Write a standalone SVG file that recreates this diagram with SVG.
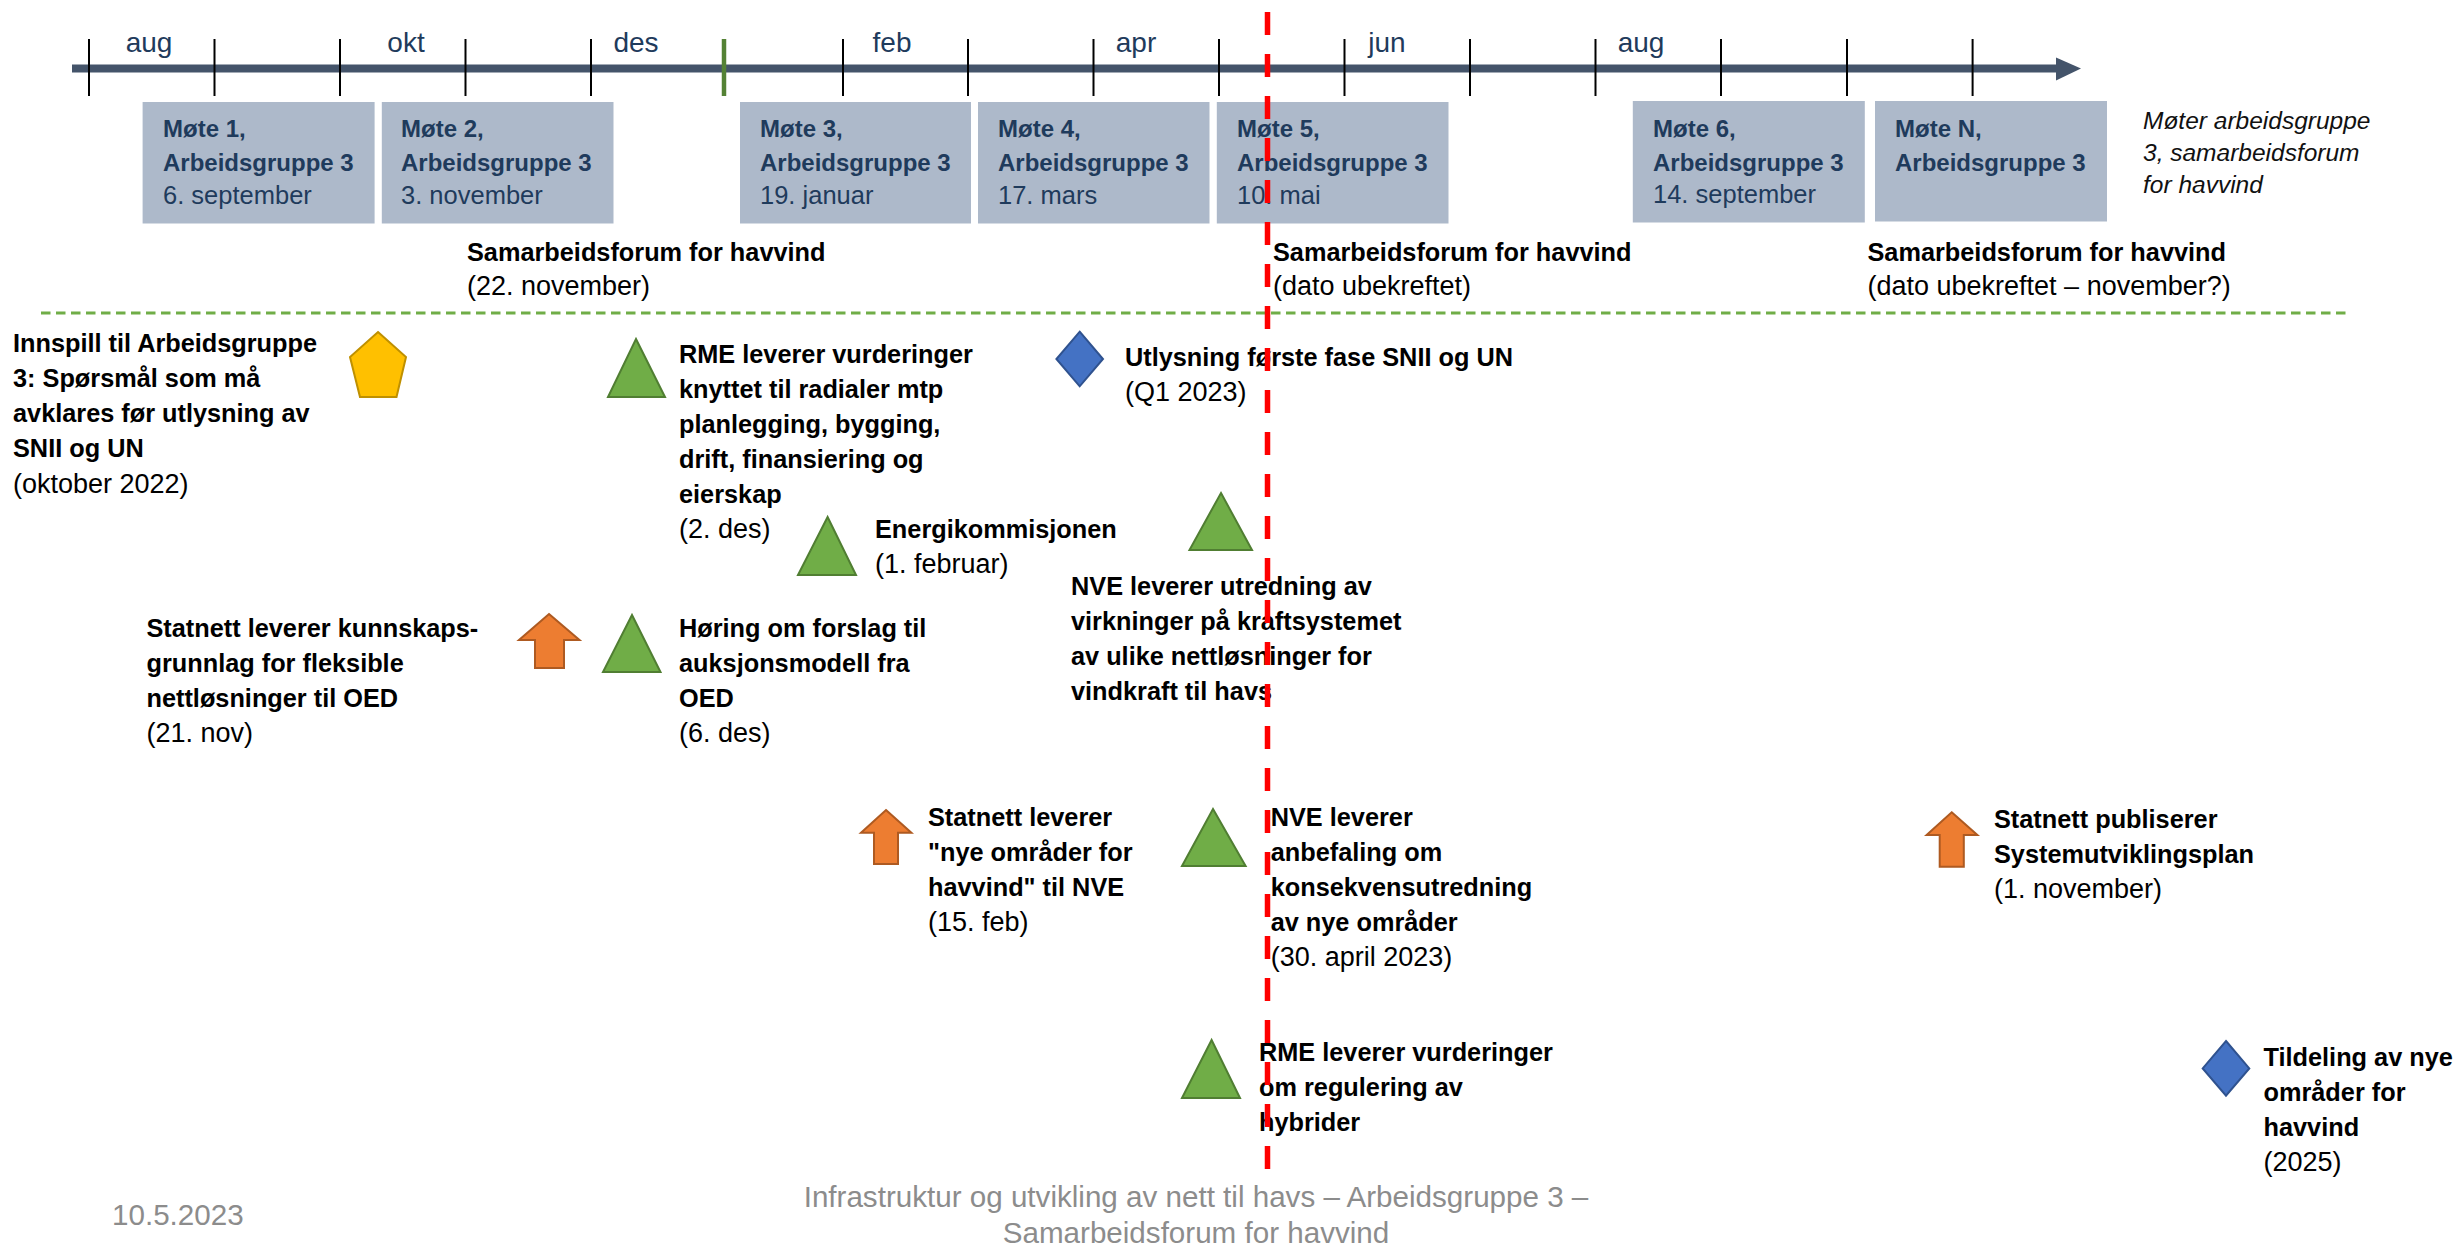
<svg xmlns="http://www.w3.org/2000/svg" width="2458" height="1247" viewBox="0 0 2458 1247">
<style>
text{font-family:"Liberation Sans",Arial,sans-serif}
.b{font-weight:bold;font-size:25.3px;fill:#000}
.r{font-size:27px;fill:#000}
.mb{font-weight:bold;font-size:24px;fill:#1F3B5C}
.mr{font-size:25.5px;fill:#1F3B5C}
.mon{font-size:28px;fill:#1F3B5C;text-anchor:middle}
.leg{font-style:italic;font-size:24.5px;fill:#111}
.foot{font-size:29.6px;fill:#8C8C8C}
.box{fill:#ADB9CA}
.tri{fill:#70AD47;stroke:#507E32;stroke-width:2}
.arr{fill:#ED7D31;stroke:#AE5A21;stroke-width:2}
.dia{fill:#4472C4;stroke:#2F528F;stroke-width:2}
.tick{stroke:#000;stroke-width:2}
</style>
<rect width="2458" height="1247" fill="#fff"/>

<g id="axis">
<rect x="72" y="64.5" width="1986" height="8" fill="#44546A"/>
<polygon points="2056,57.5 2081,68.5 2056,80.5" fill="#44546A"/>
<g class="tick">
<line x1="89" y1="39" x2="89" y2="96"/>
<line x1="214.5" y1="39" x2="214.5" y2="96"/>
<line x1="340" y1="39" x2="340" y2="96"/>
<line x1="465.5" y1="39" x2="465.5" y2="96"/>
<line x1="591" y1="39" x2="591" y2="96"/>
<line x1="843" y1="39" x2="843" y2="96"/>
<line x1="968" y1="39" x2="968" y2="96"/>
<line x1="1093.5" y1="39" x2="1093.5" y2="96"/>
<line x1="1219" y1="39" x2="1219" y2="96"/>
<line x1="1344.5" y1="39" x2="1344.5" y2="96"/>
<line x1="1470" y1="39" x2="1470" y2="96"/>
<line x1="1595.5" y1="39" x2="1595.5" y2="96"/>
<line x1="1721" y1="39" x2="1721" y2="96"/>
<line x1="1847" y1="39" x2="1847" y2="96"/>
<line x1="1972.6" y1="39" x2="1972.6" y2="96"/>
</g>
<line x1="724" y1="39" x2="724" y2="96" stroke="#548235" stroke-width="4.5"/>
<text class="mon" x="149" y="52">aug</text>
<text class="mon" x="406" y="52">okt</text>
<text class="mon" x="636" y="52">des</text>
<text class="mon" x="892" y="52">feb</text>
<text class="mon" x="1136" y="52">apr</text>
<text class="mon" x="1387" y="52">jun</text>
<text class="mon" x="1641" y="52">aug</text>
</g>

<g id="mote1"><rect class="box" x="142.6" y="102" width="232" height="121.5"/>
<text class="mb" x="163" y="137">Møte 1,</text><text class="mb" x="163" y="171">Arbeidsgruppe 3</text><text class="mr" x="163" y="204">6. september</text></g>
<g id="mote2"><rect class="box" x="381.8" y="102" width="231.7" height="121.5"/>
<text class="mb" x="401" y="137">Møte 2,</text><text class="mb" x="401" y="171">Arbeidsgruppe 3</text><text class="mr" x="401" y="204">3. november</text></g>
<g id="mote3"><rect class="box" x="740" y="102" width="231" height="121.5"/>
<text class="mb" x="760" y="137">Møte 3,</text><text class="mb" x="760" y="171">Arbeidsgruppe 3</text><text class="mr" x="760" y="204">19. januar</text></g>
<g id="mote4"><rect class="box" x="978" y="102" width="231.5" height="121.5"/>
<text class="mb" x="998" y="137">Møte 4,</text><text class="mb" x="998" y="171">Arbeidsgruppe 3</text><text class="mr" x="998" y="204">17. mars</text></g>
<g id="mote5"><rect class="box" x="1216.8" y="102" width="231.7" height="121.5"/>
<text class="mb" x="1237" y="137">Møte 5,</text><text class="mb" x="1237" y="171">Arbeidsgruppe 3</text><text class="mr" x="1237" y="204">10. mai</text></g>
<g id="mote6"><rect class="box" x="1632.8" y="101" width="232" height="121.5"/>
<text class="mb" x="1653" y="136.5">Møte 6,</text><text class="mb" x="1653" y="170.5">Arbeidsgruppe 3</text><text class="mr" x="1653" y="203">14. september</text></g>
<g id="moteN"><rect class="box" x="1875" y="101" width="232" height="120.5"/>
<text class="mb" x="1895" y="136.5">Møte N,</text><text class="mb" x="1895" y="170.5">Arbeidsgruppe 3</text></g>

<g id="legend">
<text class="leg" x="2143" y="129">Møter arbeidsgruppe</text>
<text class="leg" x="2143" y="161">3, samarbeidsforum</text>
<text class="leg" x="2143" y="193">for havvind</text>
</g>

<g id="forum1"><text class="b" x="467" y="261">Samarbeidsforum for havvind</text><text class="r" x="467" y="295">(22. november)</text></g>
<g id="forum2"><text class="b" x="1273" y="261">Samarbeidsforum for havvind</text><text class="r" x="1273" y="295">(dato ubekreftet)</text></g>
<g id="forum3"><text class="b" x="1867.5" y="261">Samarbeidsforum for havvind</text><text class="r" x="1867.5" y="295">(dato ubekreftet – november?)</text></g>

<g id="connectors">
<line x1="41" y1="313" x2="2346" y2="313" stroke="#70AD47" stroke-width="3" stroke-dasharray="9.5 5.5"/>
</g>

<g id="innspill">
<polygon points="378,332 406,357 396.5,397 360,397 350,357" fill="#FFC000" stroke="#BF9000" stroke-width="2"/>
<text class="b" x="13" y="352">Innspill til Arbeidsgruppe</text>
<text class="b" x="13" y="387">3: Spørsmål som må</text>
<text class="b" x="13" y="422">avklares før utlysning av</text>
<text class="b" x="13" y="457">SNII og UN</text>
<text class="r" x="13" y="493">(oktober 2022)</text>
</g>

<g id="rme-radialer">
<polygon class="tri" points="636,339 665,397 608,397"/>
<text class="b" x="679" y="363">RME leverer vurderinger</text>
<text class="b" x="679" y="398">knyttet til radialer mtp</text>
<text class="b" x="679" y="433">planlegging, bygging,</text>
<text class="b" x="679" y="468">drift, finansiering og</text>
<text class="b" x="679" y="503">eierskap</text>
<text class="r" x="679" y="538">(2. des)</text>
</g>

<g id="energikommisjonen">
<polygon class="tri" points="827.6,517 856,575 798,575"/>
<text class="b" x="875" y="538">Energikommisjonen</text>
<text class="r" x="875" y="573">(1. februar)</text>
</g>

<g id="utlysning">
<polygon class="dia" points="1079.7,331.7 1103,359 1079.7,386.3 1056.4,359"/>
<text class="b" x="1125" y="366">Utlysning første fase SNII og UN</text>
<text class="r" x="1125" y="401">(Q1 2023)</text>
</g>

<g id="nve-utredning">
<polygon class="tri" points="1221,493 1252,550 1189.5,550"/>
<text class="b" x="1071" y="595">NVE leverer utredning av</text>
<text class="b" x="1071" y="630">virkninger på kraftsystemet</text>
<text class="b" x="1071" y="665">av ulike nettløsninger for</text>
<text class="b" x="1071" y="700">vindkraft til havs</text>
</g>

<g id="statnett-kunnskap">
<polygon class="arr" points="549,614 579.5,640 564,640 564,668 535,668 535,640 519,640"/>
<text class="b" x="146.5" y="637">Statnett leverer kunnskaps-</text>
<text class="b" x="146.5" y="672">grunnlag for fleksible</text>
<text class="b" x="146.5" y="707">nettløsninger til OED</text>
<text class="r" x="146.5" y="742">(21. nov)</text>
</g>

<g id="horing">
<polygon class="tri" points="632,615 660.5,672 603,672"/>
<text class="b" x="679" y="637">Høring om forslag til</text>
<text class="b" x="679" y="672">auksjonsmodell fra</text>
<text class="b" x="679" y="707">OED</text>
<text class="r" x="679" y="742">(6. des)</text>
</g>

<g id="statnett-nye">
<polygon class="arr" points="886,810 911.4,832.7 898,832.7 898,864 874,864 874,832.7 861,832.7"/>
<text class="b" x="928" y="826">Statnett leverer</text>
<text class="b" x="928" y="861">"nye områder for</text>
<text class="b" x="928" y="896">havvind" til NVE</text>
<text class="r" x="928" y="931">(15. feb)</text>
</g>

<g id="nve-anbefaling">
<polygon class="tri" points="1213,809 1245.6,866 1182,866"/>
<text class="b" x="1270.7" y="826">NVE leverer</text>
<text class="b" x="1270.7" y="861">anbefaling om</text>
<text class="b" x="1270.7" y="896">konsekvensutredning</text>
<text class="b" x="1270.7" y="931">av nye områder</text>
<text class="r" x="1270.7" y="966">(30. april 2023)</text>
</g>

<g id="rme-hybrider">
<polygon class="tri" points="1211.6,1040 1240,1098 1182,1098"/>
<text class="b" x="1259" y="1061">RME leverer vurderinger</text>
<text class="b" x="1259" y="1096">om regulering av</text>
<text class="b" x="1259" y="1131">hybrider</text>
</g>

<g id="statnett-sup">
<polygon class="arr" points="1951.7,812.3 1977.4,835 1963.8,835 1963.8,866.7 1939.7,866.7 1939.7,835 1926.6,835"/>
<text class="b" x="1994" y="828">Statnett publiserer</text>
<text class="b" x="1994" y="863">Systemutviklingsplan</text>
<text class="r" x="1994" y="898">(1. november)</text>
</g>

<g id="tildeling">
<polygon class="dia" points="2226,1041 2249.3,1068.4 2226,1095.7 2202.7,1068.4"/>
<text class="b" x="2263.5" y="1066">Tildeling av nye</text>
<text class="b" x="2263.5" y="1101">områder for</text>
<text class="b" x="2263.5" y="1136">havvind</text>
<text class="r" x="2263.5" y="1171">(2025)</text>
</g>

<g id="today">
<line x1="1267.5" y1="12" x2="1267.5" y2="1170" stroke="#FF0000" stroke-width="5.5" stroke-dasharray="23 19"/>
</g>

<g id="footer">
<text class="foot" x="112" y="1225">10.5.2023</text>
<text class="foot" x="1196" y="1207" text-anchor="middle">Infrastruktur og utvikling av nett til havs – Arbeidsgruppe 3 –</text>
<text class="foot" x="1196" y="1243" text-anchor="middle">Samarbeidsforum for havvind</text>
</g>
</svg>
